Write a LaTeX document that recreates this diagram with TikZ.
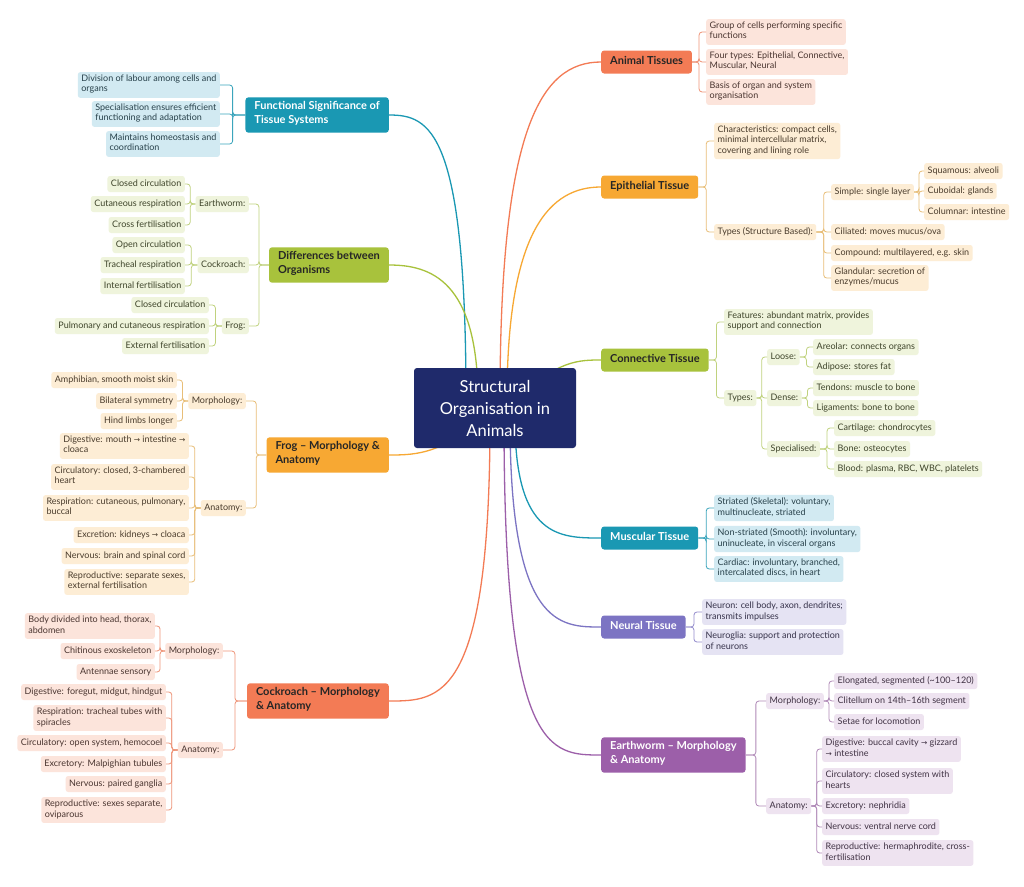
\documentclass[tikz,border=0pt]{standalone}
\usepackage{fontspec}
\setmainfont{Lato}
\newfontfamily\arrfont{DejaVu Sans}
\usetikzlibrary{calc}
\newcommand\myarr{{\arrfont\fontsize{7.5}{10}\selectfont →}}
\definecolor{cNavy}{HTML}{1F2A6B}
\definecolor{cCoral}{HTML}{F37B55}
\definecolor{cCoralL}{HTML}{FCE4DB}
\definecolor{cCoralT}{HTML}{4A3530}
\definecolor{cCoralLn}{HTML}{EE9478}
\definecolor{cAmber}{HTML}{F7A833}
\definecolor{cAmberL}{HTML}{FDEDD5}
\definecolor{cAmberT}{HTML}{4A3C2C}
\definecolor{cAmberLn}{HTML}{E8BE78}
\definecolor{cLime}{HTML}{A8C23C}
\definecolor{cLimeL}{HTML}{EFF4DC}
\definecolor{cLimeT}{HTML}{3E442A}
\definecolor{cLimeLn}{HTML}{C0D27E}
\definecolor{cTeal}{HTML}{1A98B3}
\definecolor{cTealL}{HTML}{D2EAF2}
\definecolor{cTealT}{HTML}{27404A}
\definecolor{cTealLn}{HTML}{3BA5BC}
\definecolor{cLav}{HTML}{7C74C3}
\definecolor{cLavL}{HTML}{E5E3F3}
\definecolor{cLavT}{HTML}{36324A}
\definecolor{cLavLn}{HTML}{948DCD}
\definecolor{cPlum}{HTML}{9C5FA9}
\definecolor{cPlumL}{HTML}{EEE3F0}
\definecolor{cPlumT}{HTML}{403244}
\definecolor{cPlumLn}{HTML}{B08AB8}
\newcommand\linkR[3]{\draw[#1] (#2.east) -- ($(#2.east)!.5!(#2.east -| #3.west)$) |- (#3.west);}
\newcommand\linkL[3]{\draw[#1] (#2.west) -- ($(#2.west)!.5!(#2.west -| #3.east)$) |- (#3.east);}
\tikzset{
  mainbox/.style={rounded corners=3pt, inner xsep=9pt, inner ysep=4.5pt, font=\fontsize{11}{14}\selectfont\bfseries, align=left, execute at begin node=\strut, execute at end node=\strut},
  subbox/.style={rounded corners=2.5pt, inner xsep=3.5pt, inner ysep=2.75pt, font=\fontsize{9}{10.5}\selectfont, align=left, execute at begin node=\strut, execute at end node=\strut},
  coralS/.style={subbox, fill=cCoralL, text=cCoralT},
  amberS/.style={subbox, fill=cAmberL, text=cAmberT},
  limeS/.style={subbox, fill=cLimeL, text=cLimeT},
  tealS/.style={subbox, fill=cTealL, text=cTealT},
  lavS/.style={subbox, fill=cLavL, text=cLavT},
  plumS/.style={subbox, fill=cPlumL, text=cPlumT},
  lnk/.style={line width=0.8pt, rounded corners=3pt},
  coralC/.style={lnk, draw=cCoralLn},
  amberC/.style={lnk, draw=cAmberLn},
  limeC/.style={lnk, draw=cLimeLn},
  tealC/.style={lnk, draw=cTealLn},
  lavC/.style={lnk, draw=cLavLn},
  plumC/.style={lnk, draw=cPlumLn},
  trunk/.style={line width=1.3pt},
}
\begin{document}
\begin{tikzpicture}[x=1pt,y=-1pt]
\useasboundingbox (0,0) rectangle (1024,886);
\fill[white] (0,0) rectangle (1024,886);

% ---------- Animal Tissues ----------
\node[mainbox, fill=cCoral, text=black!85, anchor=west] (at) at (601,62) {Animal Tissues};
\node[coralS, anchor=west] (at1) at (706,32) {Group of cells performing specific\\functions};
\node[coralS, anchor=west] (at2) at (706,62) {Four types: Epithelial, Connective,\\Muscular, Neural};
\node[coralS, anchor=west] (at3) at (706,92) {Basis of organ and system\\organisation};
\foreach \c in {at1,at2,at3}{\linkR{coralC}{at}{\c}}

% ---------- Epithelial ----------
\node[mainbox, fill=cAmber, text=black!85, anchor=west] (ep) at (601,187) {Epithelial Tissue};
\node[amberS, anchor=west] (ep1) at (714,141) {Characteristics: compact cells,\\minimal intercellular matrix,\\covering and lining role};
\node[amberS, anchor=west] (ep2) at (714,232) {Types (Structure Based):};
\node[amberS, anchor=west] (ep21) at (831,192) {Simple: single layer};
\node[amberS, anchor=west] (ep211) at (924,171) {Squamous: alveoli};
\node[amberS, anchor=west] (ep212) at (924,191) {Cuboidal: glands};
\node[amberS, anchor=west] (ep213) at (924,212) {Columnar: intestine};
\node[amberS, anchor=west] (ep22) at (831,232) {Ciliated: moves mucus/ova};
\node[amberS, anchor=west] (ep23) at (831,253) {Compound: multilayered, e.g. skin};
\node[amberS, anchor=west] (ep24) at (831,278) {Glandular: secretion of\\enzymes/mucus};
\foreach \c in {ep1,ep2}{\linkR{amberC}{ep}{\c}}
\foreach \c in {ep21,ep22,ep23,ep24}{\linkR{amberC}{ep2}{\c}}
\foreach \c in {ep211,ep212,ep213}{\linkR{amberC}{ep21}{\c}}

% ---------- Connective ----------
\node[mainbox, fill=cLime, text=black!85, anchor=west] (ct) at (601,360) {Connective Tissue};
\node[limeS, anchor=west] (ct1) at (724,322) {Features: abundant matrix, provides\\support and connection};
\node[limeS, anchor=west] (ct2) at (724,398) {Types:};
\node[limeS, anchor=west] (ct21) at (767,357) {Loose:};
\node[limeS, anchor=west] (ct211) at (813,347) {Areolar: connects organs};
\node[limeS, anchor=west] (ct212) at (813,367) {Adipose: stores fat};
\node[limeS, anchor=west] (ct22) at (767,398) {Dense:};
\node[limeS, anchor=west] (ct221) at (813,388) {Tendons: muscle to bone};
\node[limeS, anchor=west] (ct222) at (813,408) {Ligaments: bone to bone};
\node[limeS, anchor=west] (ct23) at (767,449) {Specialised:};
\node[limeS, anchor=west] (ct231) at (834,428) {Cartilage: chondrocytes};
\node[limeS, anchor=west] (ct232) at (834,449) {Bone: osteocytes};
\node[limeS, anchor=west] (ct233) at (834,469) {Blood: plasma, RBC, WBC, platelets};
\foreach \c in {ct1,ct2}{\linkR{limeC}{ct}{\c}}
\foreach \c in {ct21,ct22,ct23}{\linkR{limeC}{ct2}{\c}}
\foreach \c in {ct211,ct212}{\linkR{limeC}{ct21}{\c}}
\foreach \c in {ct221,ct222}{\linkR{limeC}{ct22}{\c}}
\foreach \c in {ct231,ct232,ct233}{\linkR{limeC}{ct23}{\c}}

% ---------- Muscular ----------
\node[mainbox, fill=cTeal, text=white, anchor=west] (mu) at (601,538) {Muscular Tissue};
\node[tealS, anchor=west] (mu1) at (714,508) {Striated (Skeletal): voluntary,\\multinucleate, striated};
\node[tealS, anchor=west] (mu2) at (714,539) {Non-striated (Smooth): involuntary,\\uninucleate, in visceral organs};
\node[tealS, anchor=west] (mu3) at (714,569) {Cardiac: involuntary, branched,\\intercalated discs, in heart};
\foreach \c in {mu1,mu2,mu3}{\linkR{tealC}{mu}{\c}}

% ---------- Neural ----------
\node[mainbox, fill=cLav, text=white, anchor=west] (ne) at (601,627) {Neural Tissue};
\node[lavS, anchor=west] (ne1) at (702,612) {Neuron: cell body, axon, dendrites;\\transmits impulses};
\node[lavS, anchor=west] (ne2) at (702,642) {Neuroglia: support and protection\\of neurons};
\foreach \c in {ne1,ne2}{\linkR{lavC}{ne}{\c}}

% ---------- Earthworm ----------
\node[mainbox, fill=cPlum, text=white, anchor=west] (ew) at (601,755) {Earthworm -- Morphology\\\& Anatomy};
\node[plumS, anchor=west] (ew1) at (766,701) {Morphology:};
\node[plumS, anchor=west] (ew11) at (834,681) {Elongated, segmented (\textasciitilde100--120)};
\node[plumS, anchor=west] (ew12) at (834,701) {Clitellum on 14th--16th segment};
\node[plumS, anchor=west] (ew13) at (834,722) {Setae for locomotion};
\node[plumS, anchor=west] (ew2) at (766,806) {Anatomy:};
\node[plumS, anchor=west] (ew21) at (822,749) {Digestive: buccal cavity \myarr{} gizzard\\\myarr{} intestine};
\node[plumS, anchor=west] (ew22) at (822,781) {Circulatory: closed system with\\hearts};
\node[plumS, anchor=west] (ew23) at (822,806) {Excretory: nephridia};
\node[plumS, anchor=west] (ew24) at (822,827) {Nervous: ventral nerve cord};
\node[plumS, anchor=west] (ew25) at (822,853) {Reproductive: hermaphrodite, cross-\\fertilisation};
\foreach \c in {ew1,ew2}{\linkR{plumC}{ew}{\c}}
\foreach \c in {ew11,ew12,ew13}{\linkR{plumC}{ew1}{\c}}
\foreach \c in {ew21,ew22,ew23,ew24,ew25}{\linkR{plumC}{ew2}{\c}}

% ---------- Functional Significance ----------
\node[mainbox, fill=cTeal, text=white, anchor=east] (fs) at (389,115) {Functional Significance of\\Tissue Systems};
\node[tealS, anchor=east] (fs1) at (220,85) {Division of labour among cells and\\organs};
\node[tealS, anchor=east] (fs2) at (220,114) {Specialisation ensures efficient\\functioning and adaptation};
\node[tealS, anchor=east] (fs3) at (220,144) {Maintains homeostasis and\\coordination};
\foreach \c in {fs1,fs2,fs3}{\linkL{tealC}{fs}{\c}}

% ---------- Differences ----------
\node[mainbox, fill=cLime, text=black!85, anchor=east] (df) at (389,265) {Differences between\\Organisms};
\node[limeS, anchor=east] (df1) at (249,204) {Earthworm:};
\node[limeS, anchor=east] (df11) at (185,184) {Closed circulation};
\node[limeS, anchor=east] (df12) at (185,204) {Cutaneous respiration};
\node[limeS, anchor=east] (df13) at (185,225) {Cross fertilisation};
\node[limeS, anchor=east] (df2) at (249,265) {Cockroach:};
\node[limeS, anchor=east] (df21) at (185,245) {Open circulation};
\node[limeS, anchor=east] (df22) at (185,265) {Tracheal respiration};
\node[limeS, anchor=east] (df23) at (185,286) {Internal fertilisation};
\node[limeS, anchor=east] (df3) at (249,326) {Frog:};
\node[limeS, anchor=east] (df31) at (209,305) {Closed circulation};
\node[limeS, anchor=east] (df32) at (209,326) {Pulmonary and cutaneous respiration};
\node[limeS, anchor=east] (df33) at (209,346) {External fertilisation};
\foreach \c in {df1,df2,df3}{\linkL{limeC}{df}{\c}}
\foreach \c in {df11,df12,df13}{\linkL{limeC}{df1}{\c}}
\foreach \c in {df21,df22,df23}{\linkL{limeC}{df2}{\c}}
\foreach \c in {df31,df32,df33}{\linkL{limeC}{df3}{\c}}

% ---------- Frog ----------
\node[mainbox, fill=cAmber, text=black!85, anchor=east] (fr) at (389,455) {Frog -- Morphology \&\\Anatomy};
\node[amberS, anchor=east] (fr1) at (246,401) {Morphology:};
\node[amberS, anchor=east] (fr11) at (177,380) {Amphibian, smooth moist skin};
\node[amberS, anchor=east] (fr12) at (177,401) {Bilateral symmetry};
\node[amberS, anchor=east] (fr13) at (177,421) {Hind limbs longer};
\node[amberS, anchor=east] (fr2) at (246,508) {Anatomy:};
\node[amberS, anchor=east] (fr21) at (189,446) {Digestive: mouth \myarr{} intestine \myarr{}\\cloaca};
\node[amberS, anchor=east] (fr22) at (189,477) {Circulatory: closed, 3-chambered\\heart};
\node[amberS, anchor=east] (fr23) at (189,508) {Respiration: cutaneous, pulmonary,\\buccal};
\node[amberS, anchor=east] (fr24) at (189,535) {Excretion: kidneys \myarr{} cloaca};
\node[amberS, anchor=east] (fr25) at (189,556) {Nervous: brain and spinal cord};
\node[amberS, anchor=east] (fr26) at (189,582) {Reproductive: separate sexes,\\external fertilisation};
\foreach \c in {fr1,fr2}{\linkL{amberC}{fr}{\c}}
\foreach \c in {fr11,fr12,fr13}{\linkL{amberC}{fr1}{\c}}
\foreach \c in {fr21,fr22,fr23,fr24,fr25,fr26}{\linkL{amberC}{fr2}{\c}}

% ---------- Cockroach ----------
\node[mainbox, fill=cCoral, text=black!85, anchor=east] (ck) at (389,701) {Cockroach -- Morphology\\\& Anatomy};
\node[coralS, anchor=east] (ck1) at (223,651) {Morphology:};
\node[coralS, anchor=east] (ck11) at (155,626) {Body divided into head, thorax,\\abdomen};
\node[coralS, anchor=east] (ck12) at (155,651) {Chitinous exoskeleton};
\node[coralS, anchor=east] (ck13) at (155,672) {Antennae sensory};
\node[coralS, anchor=east] (ck2) at (223,750) {Anatomy:};
\node[coralS, anchor=east] (ck21) at (166,692) {Digestive: foregut, midgut, hindgut};
\node[coralS, anchor=east] (ck22) at (166,718) {Respiration: tracheal tubes with\\spiracles};
\node[coralS, anchor=east] (ck23) at (166,743) {Circulatory: open system, hemocoel};
\node[coralS, anchor=east] (ck24) at (166,764) {Excretory: Malpighian tubules};
\node[coralS, anchor=east] (ck25) at (166,784) {Nervous: paired ganglia};
\node[coralS, anchor=east] (ck26) at (166,810) {Reproductive: sexes separate,\\oviparous};
\foreach \c in {ck1,ck2}{\linkL{coralC}{ck}{\c}}
\foreach \c in {ck11,ck12,ck13}{\linkL{coralC}{ck1}{\c}}
\foreach \c in {ck21,ck22,ck23,ck24,ck25,ck26}{\linkL{coralC}{ck2}{\c}}

% ---------- trunks ----------
\coordinate (o) at (495,408);
\draw[trunk, cCoral] (500,400) .. controls (500,130) and (540,62) .. (at.west);
\draw[trunk, cAmber] (507,400) .. controls (507,230) and (550,187) .. (ep.west);
\draw[trunk, cLime] (520,400) .. controls (555,360) and (580,360) .. (ct.west);
\draw[trunk, cTeal] (515,420) .. controls (515,538) and (560,538) .. (mu.west);
\draw[trunk, cLav] (510,420) .. controls (510,627) and (560,627) .. (ne.west);
\draw[trunk, cPlum] (504,420) .. controls (504,755) and (550,755) .. (ew.west);
\draw[trunk, cTeal] (466,400) .. controls (466,130) and (430,115) .. (fs.east);
\draw[trunk, cLime] (478,400) .. controls (478,280) and (430,265) .. (df.east);
\draw[trunk, cAmber] (470,425) .. controls (440,455) and (410,455) .. (fr.east);
\draw[trunk, cCoral] (490,420) .. controls (490,701) and (440,701) .. (ck.east);

% ---------- central ----------
\node[fill=cNavy, rounded corners=3pt, minimum width=162pt, minimum height=80pt, text=white, align=center, font=\fontsize{16.5}{22}\selectfont] (root) at (o) {Structural\\Organisation in\\Animals};
\end{tikzpicture}
\end{document}
